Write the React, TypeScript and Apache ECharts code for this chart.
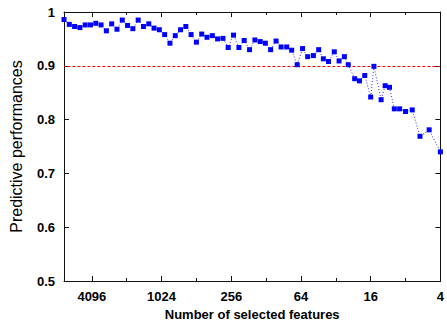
import React, { useEffect, useRef } from "react";
import * as echarts from "echarts";

// Number of selected features at each elimination step
const features = [
  7129, 6416, 5774, 5197, 4677, 4210, 3789, 3410, 3069, 2762,
  2486, 2237, 2013, 1812, 1631, 1468, 1321, 1189, 1070, 963,
  867, 780, 702, 632, 569, 512, 461, 415, 373, 336,
  302, 272, 245, 220, 198, 178, 160, 144, 130, 117,
  105, 95, 85, 77, 69, 62, 56, 50, 45, 41,
  37, 33, 30, 27, 25, 22, 20, 18, 16, 15,
  13, 12, 11, 10, 9, 8, 7, 6, 5, 4,
];

// Predictive performance at each step
const scores = [
  0.986, 0.977, 0.973, 0.971, 0.976, 0.976, 0.979, 0.976, 0.965, 0.978,
  0.968, 0.985, 0.975, 0.969, 0.985, 0.973, 0.978, 0.970, 0.967, 0.958,
  0.942, 0.956, 0.967, 0.973, 0.958, 0.944, 0.959, 0.953, 0.956, 0.950,
  0.951, 0.934, 0.957, 0.934, 0.947, 0.930, 0.948, 0.945, 0.942, 0.930,
  0.946, 0.935, 0.935, 0.929, 0.902, 0.932, 0.917, 0.919, 0.930, 0.913,
  0.908, 0.926, 0.909, 0.917, 0.902, 0.876, 0.872, 0.882, 0.842, 0.899,
  0.837, 0.863, 0.860, 0.820, 0.820, 0.815, 0.818, 0.769, 0.781, 0.740,
];

const xTickLabels = [4096, 1024, 256, 64, 16, 4];
const threshold = 0.9;

const FONT = "'Liberation Sans', Arial, Helvetica, sans-serif";
const FRAME = "#111";

export default function App() {
  const ref = useRef<HTMLDivElement>(null);
  useEffect(() => {
    document.body.style.margin = "0";
    if (!ref.current) return;
    const chart = echarts.init(ref.current, undefined, { renderer: "svg" });
    const xMin = Math.log2(features[features.length - 1]);
    const xMax = Math.log2(features[0]);
    const fmt = (v: number) => {
      const r = Math.round(v);
      if (Math.abs(v - r) > 1e-6) return "";
      const n = Math.pow(2, r);
      return xTickLabels.includes(n) ? String(n) : "";
    };
    const baseX = {
      type: "value" as const,
      min: xMin,
      max: xMax,
      inverse: true,
      splitLine: { show: false },
    };
    chart.setOption({
      animation: false,
      grid: { left: 63, right: 6, top: 12, bottom: 39 },
      xAxis: [
        {
          ...baseX,
          position: "bottom",
          interval: 2,
          axisLine: { show: true, onZero: false, lineStyle: { color: FRAME, width: 1 } },
          axisTick: { show: true, inside: true, length: 5, lineStyle: { color: FRAME } },
          axisLabel: {
            formatter: fmt,
            fontFamily: FONT,
            fontWeight: "bold",
            fontSize: 13,
            color: "#000",
            margin: 9,
            showMinLabel: true,
            showMaxLabel: true,
          },
          name: "Number of selected features",
          nameLocation: "middle",
          nameGap: 27,
          nameTextStyle: { fontFamily: FONT, fontWeight: "bold", fontSize: 13, color: "#000" },
        },
        {
          ...baseX,
          position: "bottom",
          interval: 1,
          axisLine: { show: false },
          axisTick: { show: true, inside: true, length: 3, lineStyle: { color: FRAME } },
          axisLabel: { show: false },
        },
        {
          ...baseX,
          position: "top",
          interval: 2,
          axisLine: { show: true, onZero: false, lineStyle: { color: FRAME, width: 1 } },
          axisTick: { show: true, inside: true, length: 5, lineStyle: { color: FRAME } },
          axisLabel: { show: false },
        },
        {
          ...baseX,
          position: "top",
          interval: 1,
          axisLine: { show: false },
          axisTick: { show: true, inside: true, length: 3, lineStyle: { color: FRAME } },
          axisLabel: { show: false },
        },
      ],
      yAxis: [
        {
          type: "value",
          position: "left",
          min: 0.5,
          max: 1,
          interval: 0.1,
          splitLine: { show: false },
          axisLine: { show: true, onZero: false, lineStyle: { color: FRAME, width: 1 } },
          axisTick: { show: true, inside: true, length: 5, lineStyle: { color: FRAME } },
          axisLabel: {
            fontFamily: FONT,
            fontWeight: "bold",
            fontSize: 13,
            color: "#000",
            margin: 9,
          },
          name: "Predictive performances",
          nameLocation: "middle",
          nameGap: 40,
          nameTextStyle: { fontFamily: FONT, fontSize: 16, color: "#000" },
        },
        {
          type: "value",
          position: "right",
          min: 0.5,
          max: 1,
          interval: 0.1,
          splitLine: { show: false },
          axisLine: { show: true, onZero: false, lineStyle: { color: FRAME, width: 1 } },
          axisTick: { show: true, inside: true, length: 5, lineStyle: { color: FRAME } },
          axisLabel: { show: false },
        },
      ],
      series: [
        {
          type: "line",
          xAxisIndex: 0,
          yAxisIndex: 0,
          data: features.map((f, i) => [Math.log2(f), scores[i]]),
          symbol: "rect",
          symbolSize: 5,
          itemStyle: { color: "#0000ff" },
          lineStyle: { color: "#2a2aff", width: 1, type: [1, 2] },
          z: 3,
          markLine: {
            silent: true,
            symbol: "none",
            label: { show: false },
            lineStyle: { color: "#ff0000", width: 1, type: [3, 2] },
            data: [{ yAxis: threshold }],
            z: 2,
          },
        },
      ],
    });
    return () => chart.dispose();
  }, []);
  return <div ref={ref} style={{ width: 447, height: 326 }} />;
}
